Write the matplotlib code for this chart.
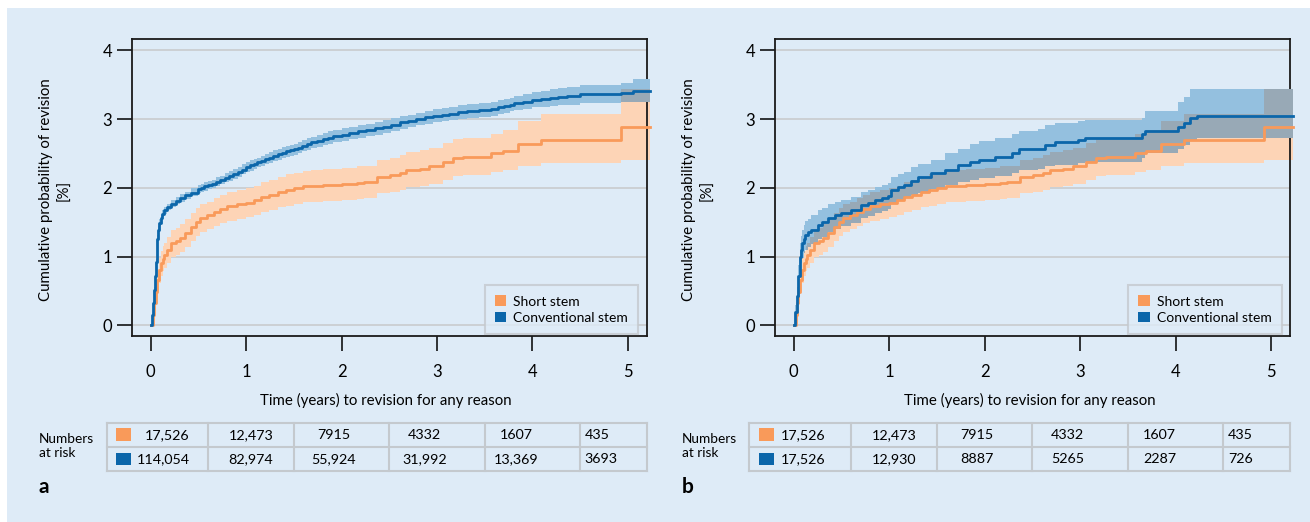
import numpy as np
import matplotlib
matplotlib.use("Agg")
import matplotlib.pyplot as plt
from matplotlib.patches import Rectangle, Patch

plt.rcParams['font.family'] = ['Lato', 'DejaVu Sans']

# ---------------- data ----------------
series_labels = ["Short stem", "Conventional stem"]
x_ticks = [0, 1, 2, 3, 4, 5]
y_ticks = [0, 1, 2, 3, 4]

# Short stem (identical in both panels)
short_t = [0, 0.02, 0.035, 0.05, 0.07, 0.09, 0.105, 0.125, 0.14, 0.17, 0.21, 0.26, 0.31, 0.36,
           0.42, 0.47, 0.52, 0.59, 0.66, 0.73, 0.80, 0.90, 1.0, 1.08, 1.15, 1.24, 1.33, 1.42,
           1.50, 1.60, 1.68, 1.80, 2.00, 2.16, 2.23, 2.37, 2.51, 2.61, 2.68, 2.82, 2.92, 3.06,
           3.17, 3.27, 3.57, 3.69, 3.85, 4.09, 4.93, 5.23]
short_v = [0, 0.15, 0.32, 0.48, 0.66, 0.80, 0.90, 0.97, 1.02, 1.10, 1.19, 1.22, 1.27, 1.34,
           1.43, 1.50, 1.56, 1.60, 1.65, 1.69, 1.73, 1.76, 1.78, 1.82, 1.87, 1.90, 1.94, 1.97,
           1.99, 2.02, 2.03, 2.04, 2.05, 2.07, 2.08, 2.16, 2.18, 2.21, 2.26, 2.28, 2.31, 2.38,
           2.43, 2.45, 2.50, 2.54, 2.63, 2.70, 2.89, 2.89]
short_lo = [0, 0.10, 0.22, 0.35, 0.50, 0.62, 0.72, 0.79, 0.84, 0.91, 0.99, 1.02, 1.07, 1.14,
            1.23, 1.30, 1.36, 1.40, 1.45, 1.49, 1.52, 1.55, 1.58, 1.61, 1.65, 1.68, 1.72, 1.74,
            1.76, 1.79, 1.80, 1.81, 1.82, 1.84, 1.85, 1.92, 1.94, 1.97, 2.01, 2.03, 2.05, 2.12,
            2.17, 2.19, 2.23, 2.26, 2.31, 2.36, 2.41, 2.41]
short_hi = [0, 0.20, 0.43, 0.62, 0.82, 0.98, 1.08, 1.15, 1.20, 1.29, 1.39, 1.42, 1.47, 1.54,
            1.63, 1.70, 1.76, 1.80, 1.85, 1.89, 1.94, 1.97, 1.99, 2.03, 2.09, 2.12, 2.16, 2.20,
            2.22, 2.25, 2.26, 2.27, 2.29, 2.31, 2.32, 2.41, 2.44, 2.47, 2.52, 2.55, 2.58, 2.65,
            2.71, 2.73, 2.78, 2.84, 2.97, 3.07, 3.44, 3.44]

# Conventional stem, all patients (panel a)
conv_t = [0, 0.012, 0.024, 0.032, 0.04, 0.05, 0.06, 0.07, 0.08, 0.09, 0.105, 0.12, 0.14, 0.17,
          0.21, 0.26, 0.31, 0.36, 0.42, 0.49, 0.525, 0.56, 0.60, 0.64, 0.685, 0.73, 0.775,
          0.82, 0.865, 0.91, 0.955, 1.0, 1.04, 1.08, 1.115, 1.15, 1.195, 1.24, 1.285, 1.33,
          1.375, 1.42, 1.46, 1.50, 1.545, 1.59, 1.635, 1.68, 1.74, 1.80, 1.855, 1.91, 2.0,
          2.08, 2.17, 2.26, 2.35, 2.43, 2.52, 2.61, 2.70, 2.78, 2.87, 2.96, 3.05, 3.13, 3.22,
          3.31, 3.44, 3.57, 3.64, 3.70, 3.76, 3.81, 3.90, 4.0, 4.09, 4.18, 4.27, 4.36, 4.5,
          4.93, 5.05, 5.23]
conv_v = [0, 0.15, 0.32, 0.52, 0.71, 0.92, 1.10, 1.26, 1.39, 1.49, 1.56, 1.62, 1.67, 1.72,
          1.77, 1.81, 1.85, 1.89, 1.93, 1.98, 2.00, 2.02, 2.04, 2.06, 2.085, 2.11, 2.14,
          2.17, 2.20, 2.23, 2.265, 2.30, 2.325, 2.35, 2.37, 2.39, 2.415, 2.44, 2.465, 2.49,
          2.51, 2.53, 2.545, 2.56, 2.585, 2.61, 2.635, 2.66, 2.685, 2.71, 2.73, 2.75, 2.775,
          2.80, 2.82, 2.84, 2.865, 2.89, 2.92, 2.95, 2.975, 3.00, 3.025, 3.05, 3.065, 3.08, 3.10,
          3.12, 3.135, 3.15, 3.17, 3.19, 3.21, 3.23, 3.255, 3.28, 3.295, 3.31, 3.325, 3.34, 3.36,
          3.385, 3.41, 3.41]
conv_lo = [0, 0.13, 0.29, 0.48, 0.67, 0.87, 1.05, 1.21, 1.34, 1.44, 1.51, 1.57, 1.62, 1.67,
           1.72, 1.76, 1.80, 1.84, 1.88, 1.92, 1.94, 1.96, 1.98, 2.00, 2.02, 2.05, 2.08,
           2.10, 2.13, 2.16, 2.20, 2.23, 2.25, 2.28, 2.30, 2.32, 2.34, 2.36, 2.39, 2.41,
           2.43, 2.45, 2.465, 2.48, 2.50, 2.53, 2.55, 2.58, 2.60, 2.62, 2.64, 2.66, 2.685,
           2.71, 2.73, 2.75, 2.775, 2.80, 2.83, 2.86, 2.885, 2.91, 2.93, 2.95, 2.965, 2.98, 3.00,
           3.02, 3.035, 3.05, 3.07, 3.09, 3.11, 3.13, 3.15, 3.17, 3.18, 3.19, 3.20, 3.21, 3.23,
           3.25, 3.25, 3.25]
conv_hi = [0, 0.17, 0.35, 0.56, 0.75, 0.97, 1.15, 1.31, 1.44, 1.54, 1.61, 1.67, 1.72, 1.77,
           1.82, 1.87, 1.91, 1.94, 1.99, 2.04, 2.06, 2.08, 2.10, 2.12, 2.15, 2.17, 2.21,
           2.24, 2.27, 2.30, 2.34, 2.37, 2.40, 2.42, 2.44, 2.46, 2.49, 2.52, 2.55, 2.57,
           2.59, 2.61, 2.625, 2.64, 2.67, 2.69, 2.72, 2.74, 2.77, 2.80, 2.82, 2.84, 2.865,
           2.89, 2.91, 2.93, 2.955, 2.98, 3.01, 3.04, 3.065, 3.09, 3.12, 3.15, 3.165, 3.18, 3.20,
           3.22, 3.235, 3.25, 3.27, 3.29, 3.31, 3.33, 3.36, 3.39, 3.41, 3.43, 3.45, 3.47, 3.49,
           3.53, 3.58, 3.58]

# Conventional stem, matched patients (panel b)
match_t = [0, 0.015, 0.03, 0.045, 0.063, 0.076, 0.089, 0.105, 0.12, 0.15, 0.186, 0.25, 0.30,
           0.36, 0.43, 0.50, 0.60, 0.71, 0.78, 0.85, 0.92, 0.99, 1.02, 1.09, 1.16, 1.23, 1.30,
           1.44, 1.58, 1.72, 1.85, 1.94, 2.11, 2.29, 2.36, 2.56, 2.63, 2.74, 2.98, 3.05, 3.65,
           3.68, 4.03, 4.09, 4.15, 4.22, 5.23]
match_v = [0, 0.20, 0.42, 0.71, 1.00, 1.10, 1.19, 1.26, 1.31, 1.35, 1.39, 1.46, 1.50,
           1.56, 1.60, 1.64, 1.68, 1.75, 1.78, 1.82, 1.85, 1.88, 1.97, 2.01, 2.04, 2.10, 2.15,
           2.21, 2.26, 2.33, 2.38, 2.41, 2.45, 2.50, 2.56, 2.57, 2.62, 2.66, 2.70, 2.73, 2.78,
           2.82, 2.88, 2.94, 3.01, 3.05, 3.05]
match_lo = [0, 0.12, 0.30, 0.55, 0.80, 0.90, 0.98, 1.05, 1.10, 1.14, 1.18, 1.25, 1.29,
            1.35, 1.40, 1.45, 1.49, 1.56, 1.59, 1.63, 1.66, 1.69, 1.78, 1.82, 1.85, 1.90, 1.93,
            1.98, 2.04, 2.09, 2.12, 2.14, 2.17, 2.21, 2.26, 2.27, 2.31, 2.33, 2.36, 2.38, 2.43,
            2.50, 2.56, 2.62, 2.68, 2.72, 2.72]
match_hi = [0, 0.30, 0.56, 0.88, 1.19, 1.30, 1.39, 1.46, 1.51, 1.55, 1.60, 1.67, 1.71,
            1.76, 1.79, 1.82, 1.87, 1.94, 1.97, 2.01, 2.04, 2.07, 2.16, 2.20, 2.23, 2.30, 2.35,
            2.40, 2.50, 2.57, 2.63, 2.68, 2.72, 2.78, 2.82, 2.86, 2.91, 2.94, 2.97, 2.99, 3.02,
            3.12, 3.25, 3.32, 3.43, 3.43, 3.43]

# Numbers at risk
risk_short_a = ["17,526", "12,473", "7915", "4332", "1607", "435"]
risk_conv_a = ["114,054", "82,974", "55,924", "31,992", "13,369", "3693"]
risk_short_b = ["17,526", "12,473", "7915", "4332", "1607", "435"]
risk_conv_b = ["17,526", "12,930", "8887", "5265", "2287", "726"]

# ---------------- style ----------------
W, H = 1310, 522
BG = '#deebf7'
ORANGE = '#f99a5a'
ORANGE_BAND = '#fdd4b6'
BLUE = '#0b66aa'
BLUE_BAND = '#94c0df'
OVERLAP = '#98a9b6'
GRID = '#c9cbcd'
TABLE_LINE = '#c4c9ce'

XLIM = (-0.2, 5.2)
YLIM = (-0.156, 4.16)
TAB_X0 = -0.463
COL_EDGES = [TAB_X0, 0.6, 1.5, 2.5, 3.5, 4.5, XLIM[1]]
COL_CENTERS = [None, 1.05, 1.92, 2.87, 3.83, None]
TFS = 10.3

fig = plt.figure(figsize=(W / 100, H / 100), dpi=100)
fig.patch.set_facecolor('white')
fig.add_artist(Rectangle((7 / W, 0), 1 - 7 / W, 1 - 8 / H, transform=fig.transFigure,
                         facecolor=BG, edgecolor='none', zorder=-10))


def step_eval(t, v, grid):
    idx = np.searchsorted(np.asarray(t), grid, side='right') - 1
    return np.asarray(v)[idx]


def panel(left_px, right_px, curve_b, risk_rows, letter, first_align):
    top_px, bot_px = 39.3, 336.0
    ax = fig.add_axes([left_px / W, 1 - bot_px / H, (right_px - left_px) / W,
                       (bot_px - top_px) / H])
    ax.set_facecolor('none')
    ax.set_xlim(*XLIM)
    ax.set_ylim(*YLIM)
    for yv in y_ticks:
        ax.axhline(yv, color=GRID, lw=1.2, zorder=1)

    bt, bv, blo, bhi = curve_b
    ax.fill_between(short_t, short_lo, short_hi, step='post', color=ORANGE_BAND, lw=0,
                    zorder=2, clip_on=False)
    ax.fill_between(bt, blo, bhi, step='post', color=BLUE_BAND, lw=0, zorder=3, clip_on=False)
    grid = np.union1d(short_t, bt)
    olo = np.maximum(step_eval(short_t, short_lo, grid), step_eval(bt, blo, grid))
    ohi = np.minimum(step_eval(short_t, short_hi, grid), step_eval(bt, bhi, grid))
    ohi = np.maximum(ohi, olo)
    ax.fill_between(grid, olo, ohi, step='post', color=OVERLAP, lw=0, zorder=4, clip_on=False)
    ax.step(short_t, short_v, where='post', color=ORANGE, lw=2.0, zorder=5, clip_on=False)
    ax.step(bt, bv, where='post', color=BLUE, lw=2.0, zorder=6, clip_on=False)

    ax.set_xticks(x_ticks)
    ax.set_yticks(y_ticks)
    ax.tick_params(axis='x', direction='out', length=11, width=1.1, labelsize=12, pad=9)
    ax.tick_params(axis='y', direction='out', length=11, width=1.1, labelsize=12, pad=3)
    for s in ax.spines.values():
        s.set_linewidth(1.3)
        s.set_color('#1a1a1a')

    xc = (left_px + right_px) / 2 - 3
    fig.text(xc / W, 1 - 400 / H, "Time (years) to revision for any reason",
             ha='center', va='center', fontsize=10.8)
    fig.text((left_px - 76) / W, 1 - 190 / H, "Cumulative probability of revision\n[%]",
             ha='center', va='center', rotation=90, fontsize=10.8, linespacing=1.4,
             multialignment='center')

    handles = [Patch(facecolor=ORANGE, edgecolor='none'), Patch(facecolor=BLUE, edgecolor='none')]
    leg = ax.legend(handles, series_labels, loc='upper right', bbox_to_anchor=(0.9835, 0.172),
                    borderaxespad=0, fontsize=10, frameon=True, fancybox=False,
                    handlelength=0.8, handleheight=0.8, handletextpad=0.5, borderpad=0.75,
                    labelspacing=0.3)
    fr = leg.get_frame()
    fr.set_facecolor(BG)
    fr.set_edgecolor(TABLE_LINE)
    fr.set_linewidth(1.5)
    leg.set_zorder(10)

    # numbers-at-risk table
    scale = (right_px - left_px) / (XLIM[1] - XLIM[0])
    tl = left_px + (TAB_X0 - XLIM[0]) * scale
    tt, tb = 422.7, 471.0
    axt = fig.add_axes([tl / W, 1 - tb / H, (right_px - tl) / W, (tb - tt) / H])
    axt.set_xlim(TAB_X0, XLIM[1])
    axt.set_ylim(0, 2)
    axt.axis('off')
    for xe in COL_EDGES:
        axt.plot([xe, xe], [0, 2], color=TABLE_LINE, lw=1.5, clip_on=False)
    for ye in [0, 1, 2]:
        axt.plot([COL_EDGES[0], COL_EDGES[-1]], [ye, ye], color=TABLE_LINE, lw=1.5,
                 clip_on=False)
    colors = [ORANGE, BLUE]
    for r, row in enumerate(risk_rows):
        yc = 1.5 - r
        axt.add_patch(Rectangle((-0.36, yc - 0.26), 0.15, 0.52, facecolor=colors[r],
                                edgecolor='none'))
        for c, val in enumerate(row):
            if c == 0:
                if first_align == 'right':
                    axt.text(0.41, yc, val, ha='right', va='center', fontsize=TFS)
                else:
                    axt.text(-0.13, yc, val, ha='left', va='center', fontsize=TFS)
            elif c == len(row) - 1:
                axt.text(4.55, yc, val, ha='left', va='center', fontsize=TFS)
            else:
                axt.text(COL_CENTERS[c], yc, val, ha='center', va='center', fontsize=TFS)

    lx = left_px - 93
    fig.text(lx / W, 1 - 446 / H, "Numbers\nat risk", ha='left', va='center',
             fontsize=9.8, linespacing=1.2)
    fig.text(lx / W, 1 - 487 / H, letter, ha='left', va='center', fontsize=15,
             fontweight='bold')
    return ax


panel(131.7, 646.9, (conv_t, conv_v, conv_lo, conv_hi), [risk_short_a, risk_conv_a], 'a', 'right')
panel(774.6, 1290.2, (match_t, match_v, match_lo, match_hi), [risk_short_b, risk_conv_b], 'b', 'left')

fig.savefig('out.png', dpi=100, facecolor=fig.get_facecolor())
